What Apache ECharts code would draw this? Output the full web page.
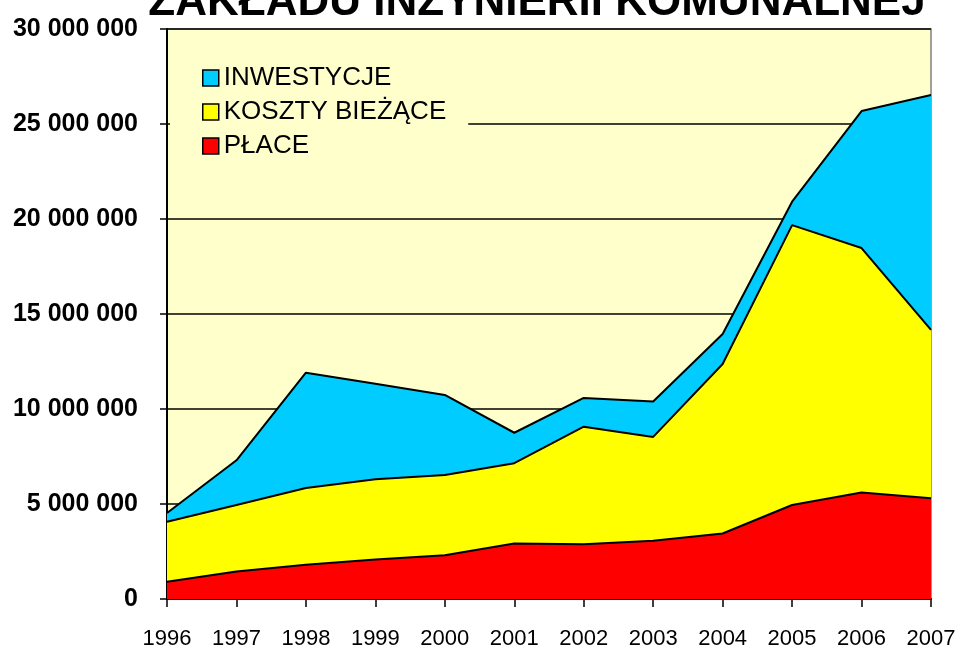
<!DOCTYPE html>
<html>
<head>
<meta charset="utf-8">
<title>Zakład Inżynierii Komunalnej</title>
<script src="https://cdn.jsdelivr.net/npm/echarts@6/dist/echarts.min.js"></script>
<style>
  html, body { margin: 0; padding: 0; background: #fff; }
  #main { width: 959px; height: 653px; }
</style>
</head>
<body>
<div id="main"></div>
<script>
// dane (zł)
var years = ['1996', '1997', '1998', '1999', '2000', '2001', '2002', '2003', '2004', '2005', '2006', '2007'];
var place = [910000, 1450000, 1800000, 2080000, 2300000, 2920000, 2880000, 3070000, 3450000, 4950000, 5600000, 5300000];
var koszty = [3160000, 3500000, 4040000, 4220000, 4230000, 4230000, 6190000, 5460000, 8920000, 14730000, 12870000, 8860000];
var inwestycje = [460000, 2350000, 6070000, 5030000, 4210000, 1600000, 1510000, 1860000, 1580000, 1230000, 7210000, 12370000];
var yTicks = [0, 5000000, 10000000, 15000000, 20000000, 25000000, 30000000];

var font = '"Liberation Sans", Arial, sans-serif';

var myChart = echarts.init(document.getElementById('main'));

function fmt(v) {
  return String(v).replace(/\B(?=(\d{3})+(?!\d))/g, ' ');
}

function areaSeries(name, data, color) {
  return {
    name: name,
    type: 'line',
    stack: 'suma',
    data: data,
    color: color,
    showSymbol: false,
    lineStyle: { color: '#000', width: 2 },
    areaStyle: { color: color, opacity: 1 },
    emphasis: { disabled: true }
  };
}

var option = {
  animation: false,
  graphic: [{
    type: 'text',
    x: 537,
    y: -19,
    style: {
      text: 'ZAKŁADU INŻYNIERII KOMUNALNEJ',
      font: 'bold 44px ' + font,
      fill: '#000',
      align: 'center',
      verticalAlign: 'top'
    }
  }],
  grid: {
    left: 167, right: 28, top: 29, bottom: 54,
    outerBoundsMode: 'none',
    containLabel: false,
    show: true,
    backgroundColor: '#FFFFCC',
    borderColor: '#808080',
    borderWidth: 1.5
  },
  legend: {
    orient: 'vertical',
    left: 170,
    top: 52,
    padding: [13, 22, 13, 32],
    backgroundColor: '#FFFFCC',
    itemGap: 8,
    itemWidth: 16,
    itemHeight: 16,
    icon: 'rect',
    itemStyle: { borderColor: '#000', borderWidth: 1.5 },
    textStyle: { fontFamily: font, fontSize: 26, lineHeight: 25, color: '#000' },
    data: ['INWESTYCJE', 'KOSZTY BIEŻĄCE', 'PŁACE']
  },
  xAxis: {
    type: 'category',
    boundaryGap: false,
    data: years,
    axisLine: { lineStyle: { color: '#000', width: 2 } },
    axisTick: { show: true, length: 8, interval: 0, lineStyle: { color: '#000', width: 1.5 } },
    axisLabel: {
      interval: 0,
      margin: 29,
      color: '#000',
      fontSize: 22,
      fontFamily: font
    }
  },
  yAxis: {
    type: 'value',
    min: yTicks[0],
    max: yTicks[yTicks.length - 1],
    interval: 5000000,
    axisLine: { show: true, lineStyle: { color: '#000', width: 2 } },
    axisTick: { show: true, length: 7, lineStyle: { color: '#000', width: 1.5 } },
    splitLine: { show: true, lineStyle: { color: '#000', width: 1.5 } },
    axisLabel: {
      margin: 29,
      color: '#000',
      fontSize: 25,
      fontWeight: 'bold',
      fontFamily: font,
      formatter: fmt
    }
  },
  series: [
    areaSeries('PŁACE', place, '#FF0000'),
    areaSeries('KOSZTY BIEŻĄCE', koszty, '#FFFF00'),
    areaSeries('INWESTYCJE', inwestycje, '#00CCFF')
  ]
};

myChart.setOption(option);
</script>
</body>
</html>
